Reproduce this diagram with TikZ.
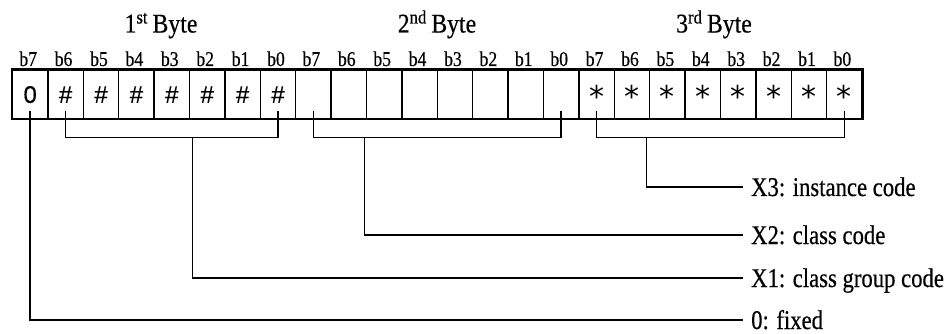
\documentclass[tikz,border=0pt]{standalone}
\usepackage{fontspec}
\setmainfont{Liberation Serif}
\newfontfamily\cellfont[FakeBold=0.4]{Liberation Sans}
\newfontfamily\starfont{DejaVu Sans}
\newfontfamily\lblfont[FakeStretch=0.84,FakeBold=0.5]{Liberation Serif}
\newfontfamily\ttlfont[FakeStretch=0.88,FakeBold=0.5]{Liberation Serif}
\newfontfamily\bitfont[FakeStretch=0.84,FakeBold=0.5]{Liberation Serif}
\tikzset{
  bitcell/.style={draw, line width=1.4pt, minimum width=35.4pt, minimum height=48.5pt,
    inner sep=0pt, text height=17.2pt, text depth=0pt,
    font=\cellfont\fontsize{24}{28}\selectfont},
  bitlbl/.style={anchor=base, inner sep=0pt, font=\bitfont\fontsize{21}{24}\selectfont},
  bytettl/.style={anchor=base, inner sep=0pt, font=\ttlfont\fontsize{27}{30}\selectfont},
  fieldlbl/.style={anchor=west, inner xsep=8pt, inner ysep=0pt, text height=18pt, text depth=0pt,
    font=\lblfont\fontsize{27}{30}\selectfont},
  conn/.style={line width=1.5pt}
}
\begin{document}
\begin{tikzpicture}[x=1pt, y=-1pt]
  \useasboundingbox (0,0) rectangle (951,334);

  % byte titles
  \node[bytettl] (t1) at (161,32.5) {1\textsuperscript{st}\,Byte};
  \node[bytettl] (t2) at (437,32.5) {2\textsuperscript{nd}\,Byte};
  \node[bytettl] (t3) at (714,32.5) {3\textsuperscript{rd}\,Byte};

  % bit cells and bit numbers
  \foreach \i in {0,...,23}{
    \ifnum\i=0 \def\val{0}\else\ifnum\i<8 \def\val{\#}\else\ifnum\i<16 \def\val{}\else
      \def\val{\raisebox{-5pt}{\starfont\fontsize{30}{30}\selectfont *}}\fi\fi\fi
    \node[bitcell] (c\i) at ({30.2+35.4*\i},94.25) {\val};
    \pgfmathtruncatemacro\bn{7-mod(\i,8)}
    \node[bitlbl] (b\i) at ({28.2+35.4*\i},66) {b\bn};
  }
  \draw[line width=1.8pt] (c0.north west) rectangle (c23.south east);

  % field labels
  \node[fieldlbl] (x3) at (743,187) {X3: instance code};
  \node[fieldlbl] (x2) at (743,235) {X2: class code};
  \node[fieldlbl] (x1) at (743,278) {X1: class group code};
  \node[fieldlbl] (fx) at (743,320) {0: fixed};

  \coordinate (s1) at (192.7,137.7);
  \coordinate (s2) at (364.3,137.7);
  \coordinate (s3) at (646.7,137.7);

  % brackets
  \draw[conn] ([yshift=8.5pt]c1.south) |- (s1) -| ([yshift=8.5pt]c7.south);
  \draw[conn] ([yshift=8.5pt]c8.south) |- (s2) -| ([yshift=8.5pt]c15.south);
  \draw[conn] ([yshift=8.5pt]c16.south) |- (s3) -| ([yshift=8.5pt]c23.south);

  % leaders
  \draw[conn] (s3) |- (x3.west);
  \draw[conn] (s2) |- (x2.west);
  \draw[conn] (s1) |- (x1.west);
  \draw[conn] ([yshift=8.5pt]c0.south) |- (fx.west);
\end{tikzpicture}
\end{document}
